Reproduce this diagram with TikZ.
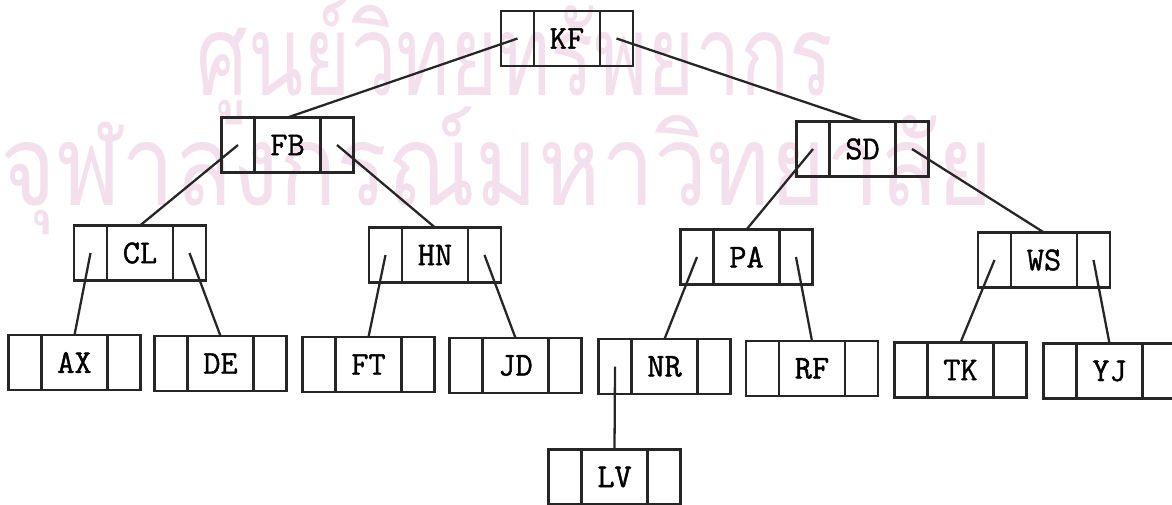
\documentclass[tikz,border=0pt]{standalone}
\usepackage{fontspec}
\newfontfamily\thaifont[Script=Thai]{Loma}
\newfontfamily\keyfont[FakeBold=1.2]{Latin Modern Mono}
\usetikzlibrary{positioning}

\definecolor{stamp}{RGB}{244,224,236}

\tikzset{
    key/.style={draw=black!85, line width=1.4pt, minimum width=1.32cm, minimum height=1.1cm,
        inner sep=0pt, outer sep=0pt, font=\keyfont\fontsize{19}{22}\selectfont},
    ptr/.style={draw=black!85, line width=1.4pt, minimum width=0.66cm, minimum height=1.1cm,
        inner sep=0pt, outer sep=0pt},
    link/.style={draw=black!85, line width=1.3pt},
    stamptext/.style={text=stamp, inner sep=0pt, anchor=base, font=\thaifont\fontsize{64}{70}\selectfont},
}

\begin{document}
\begin{tikzpicture}[x=0.02cm, y=-0.02cm]
    \useasboundingbox (0,0) rectangle (1172,504);

    % library stamp, behind the tree
    \node[stamptext] (stamp1) at (515,95) {\scalebox{0.72}[1]{ศูนย์วิทยทรัพยากร}};
    \node[stamptext] (stamp2) at (497,205) {\scalebox{0.845}[1]{จุฬาลงกรณ์มหาวิทยาลัย}};

    % key in the middle, one pointer cell on each side
    \foreach \k/\x/\y in {KF/567/38.5, FB/287.5/145, SD/862.5/149,
                          CL/140/253, HN/435/255, PA/746.5/257, WS/1044/260,
                          AX/74.5/362.5, DE/220.5/363.5, FT/368.5/364.5, JD/515.5/365.5,
                          NR/664.5/366.5, RF/812/368.5, TK/960.5/370, YJ/1109.5/371,
                          LV/614.5/477} {
        \node[key] (\k) at (\x,\y) {\k};
        \node[ptr] (\k-l) [left=0pt of \k] {};
        \node[ptr] (\k-r) [right=0pt of \k] {};
    }

    \path[link]
    (KF-l.center) edge (FB.north)
    (KF-r.center) edge (SD.north)
    (FB-l.center) edge (CL.north)
    (FB-r.center) edge (HN.north)
    (SD-l.center) edge (PA.north)
    (SD-r.center) edge (WS.north)
    (CL-l.center) edge (AX.north)
    (CL-r.center) edge (DE.north)
    (HN-l.center) edge (FT.north)
    (HN-r.center) edge (JD.north)
    (PA-l.center) edge (NR.north)
    (PA-r.center) edge (RF.north)
    (WS-l.center) edge (TK.north)
    (WS-r.center) edge (YJ.north)
    (NR-l.center) edge (LV.north)
    ;
\end{tikzpicture}
\end{document}
